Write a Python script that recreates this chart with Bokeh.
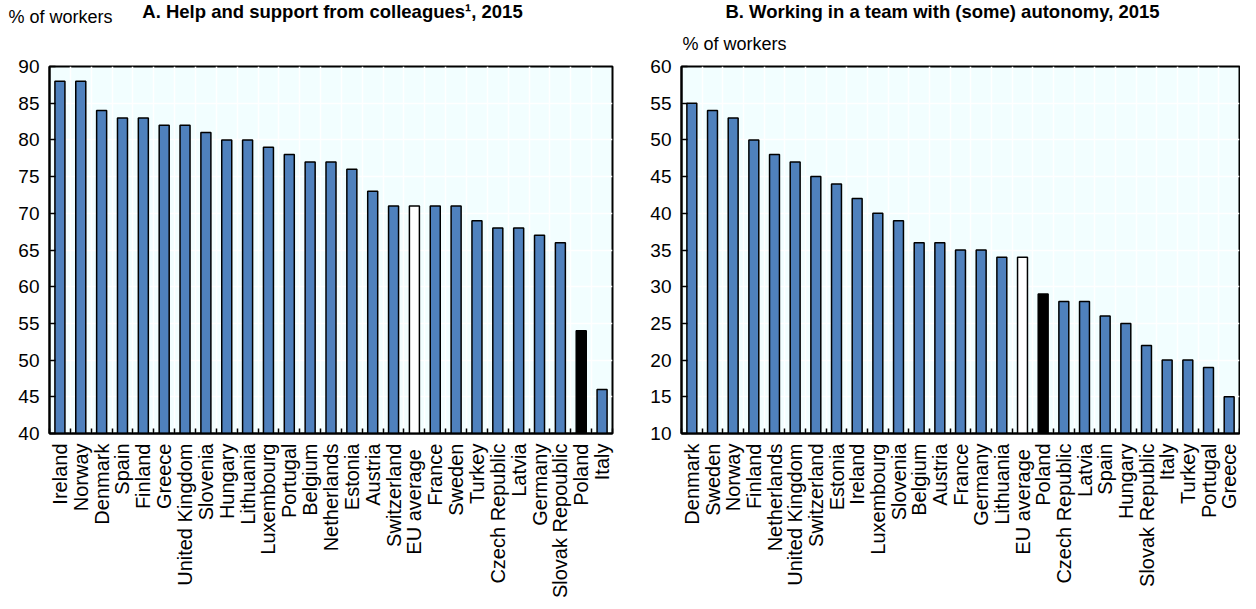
from bokeh.plotting import figure
from bokeh.layouts import row, column
from bokeh.models import Range1d, FixedTicker, Label
from bokeh.embed import file_html
from bokeh.resources import INLINE
import numpy as np

# ---------------- data ----------------
countries_a = ["Ireland", "Norway", "Denmark", "Spain", "Finland", "Greece",
               "United Kingdom", "Slovenia", "Hungary", "Lithuania", "Luxembourg",
               "Portugal", "Belgium", "Netherlands", "Estonia", "Austria",
               "Switzerland", "EU  average", "France", "Sweden", "Turkey",
               "Czech Republic", "Latvia", "Germany", "Slovak Repoublic", "Poland", "Italy"]
values_a = [88, 88, 84, 83, 83, 82, 82, 81, 80, 80, 79, 78, 77, 77, 76, 73,
            71, 71, 71, 71, 69, 68, 68, 67, 66, 54, 46]

countries_b = ["Denmark", "Sweden", "Norway", "Finland", "Netherlands",
               "United Kingdom", "Switzerland", "Estonia", "Ireland", "Luxembourg",
               "Slovenia", "Belgium", "Austria", "France", "Germany", "Lithuania",
               "EU  average", "Poland", "Czech Republic", "Latvia", "Spain", "Hungary",
               "Slovak Republic", "Italy", "Turkey", "Portugal", "Greece"]
values_b = [55, 54, 53, 50, 48, 47, 45, 44, 42, 40, 39, 36, 36, 35, 35, 34,
            34, 29, 28, 28, 26, 25, 22, 20, 20, 19, 15]

yticks_a = [40, 45, 50, 55, 60, 65, 70, 75, 80, 85, 90]
yticks_b = [10, 15, 20, 25, 30, 35, 40, 45, 50, 55, 60]

title_a = "A. Help and support from colleagues\u00b9, 2015"
title_b = "B. Working in a team with (some) autonomy, 2015"
unit_label = "% of workers"

BLUE = "#4F81BD"
BG = "#F2FEFF"
FONT = "Liberation Sans"

HEADER_H = 54
FRAME_H = 367
TOP = 12


def make_panel(countries, values, yticks, frame_w, border_left, border_right):
    n = len(countries)
    xs = list(range(n))
    colors = ["white" if c.startswith("EU") else ("black" if c == "Poland" else BLUE)
              for c in countries]
    ymin, ymax = yticks[0], yticks[-1]
    p = figure(frame_width=frame_w, frame_height=FRAME_H,
               x_range=Range1d(-0.5, n - 0.5), y_range=Range1d(ymin, ymax),
               output_backend="svg", toolbar_location=None,
               min_border_left=border_left, min_border_right=border_right,
               min_border_top=TOP, min_border_bottom=10)
    p.background_fill_color = BG
    p.border_fill_color = "white"
    p.outline_line_color = "black"
    p.outline_line_width = 2

    p.vbar(x=xs, top=values, bottom=ymin, width=0.48, fill_color=colors,
           line_color="black", line_width=1.5)

    # x axis
    xa = p.xaxis[0]
    xa.ticker = FixedTicker(ticks=xs, minor_ticks=[i - 0.5 for i in range(n + 1)])
    xa.major_label_overrides = {i: c for i, c in enumerate(countries)}
    xa.major_label_orientation = np.pi / 2
    xa.major_tick_line_color = None
    xa.minor_tick_in = 5
    xa.minor_tick_out = 0
    xa.minor_tick_line_color = "black"
    xa.minor_tick_line_width = 1.5
    xa.axis_line_width = 2
    xa.axis_line_color = "black"
    xa.major_label_text_font = FONT
    xa.major_label_text_font_size = "20px"
    xa.major_label_text_color = "black"
    xa.major_label_standoff = 4

    # y axis
    ya = p.yaxis[0]
    ya.ticker = FixedTicker(ticks=yticks)
    ya.major_tick_in = 6
    ya.major_tick_out = 0
    ya.major_tick_line_width = 1.5
    ya.minor_tick_line_color = None
    ya.axis_line_width = 2
    ya.major_label_text_font = FONT
    ya.major_label_text_font_size = "19px"
    ya.major_label_text_color = "black"
    ya.major_label_standoff = 10

    # grids
    p.xgrid.ticker = FixedTicker(ticks=[i - 0.5 for i in range(n + 1)])
    p.xgrid.grid_line_color = "white"
    p.xgrid.grid_line_width = 1.5
    p.ygrid.grid_line_color = "white"
    p.ygrid.grid_line_width = 1.5
    return p


pa = make_panel(countries_a, values_a, yticks_a, frame_w=563,
                border_left=49, border_right=2)
pb = make_panel(countries_b, values_b, yticks_b, frame_w=558,
                border_left=67, border_right=1)

# header strip holding the panel titles and unit labels
W = 1240
hdr = figure(width=W, height=HEADER_H, x_range=Range1d(0, W), y_range=Range1d(0, HEADER_H),
             output_backend="svg", toolbar_location=None,
             x_axis_location=None, y_axis_location=None,
             min_border_left=0, min_border_right=0, min_border_top=0, min_border_bottom=0)
hdr.outline_line_color = None
hdr.grid.visible = False
hdr.background_fill_color = "white"
hdr.border_fill_color = "white"


def hlabel(x, y, text, size, bold=False, align="left"):
    hdr.add_layout(Label(x=x, y=y, text=text, text_font=FONT,
                         text_font_style="bold" if bold else "normal",
                         text_font_size=size, text_align=align,
                         text_baseline="middle", text_color="black"))


hlabel(332, 43, title_a, "18.5px", bold=True, align="center")
hlabel(8, 38, unit_label, "18px")
hlabel(942, 43, title_b, "18.5px", bold=True, align="center")
hlabel(682, 11, unit_label, "18px")

layout = column(hdr, row(pa, pb))
open("out.html", "w").write(file_html(layout, INLINE))
